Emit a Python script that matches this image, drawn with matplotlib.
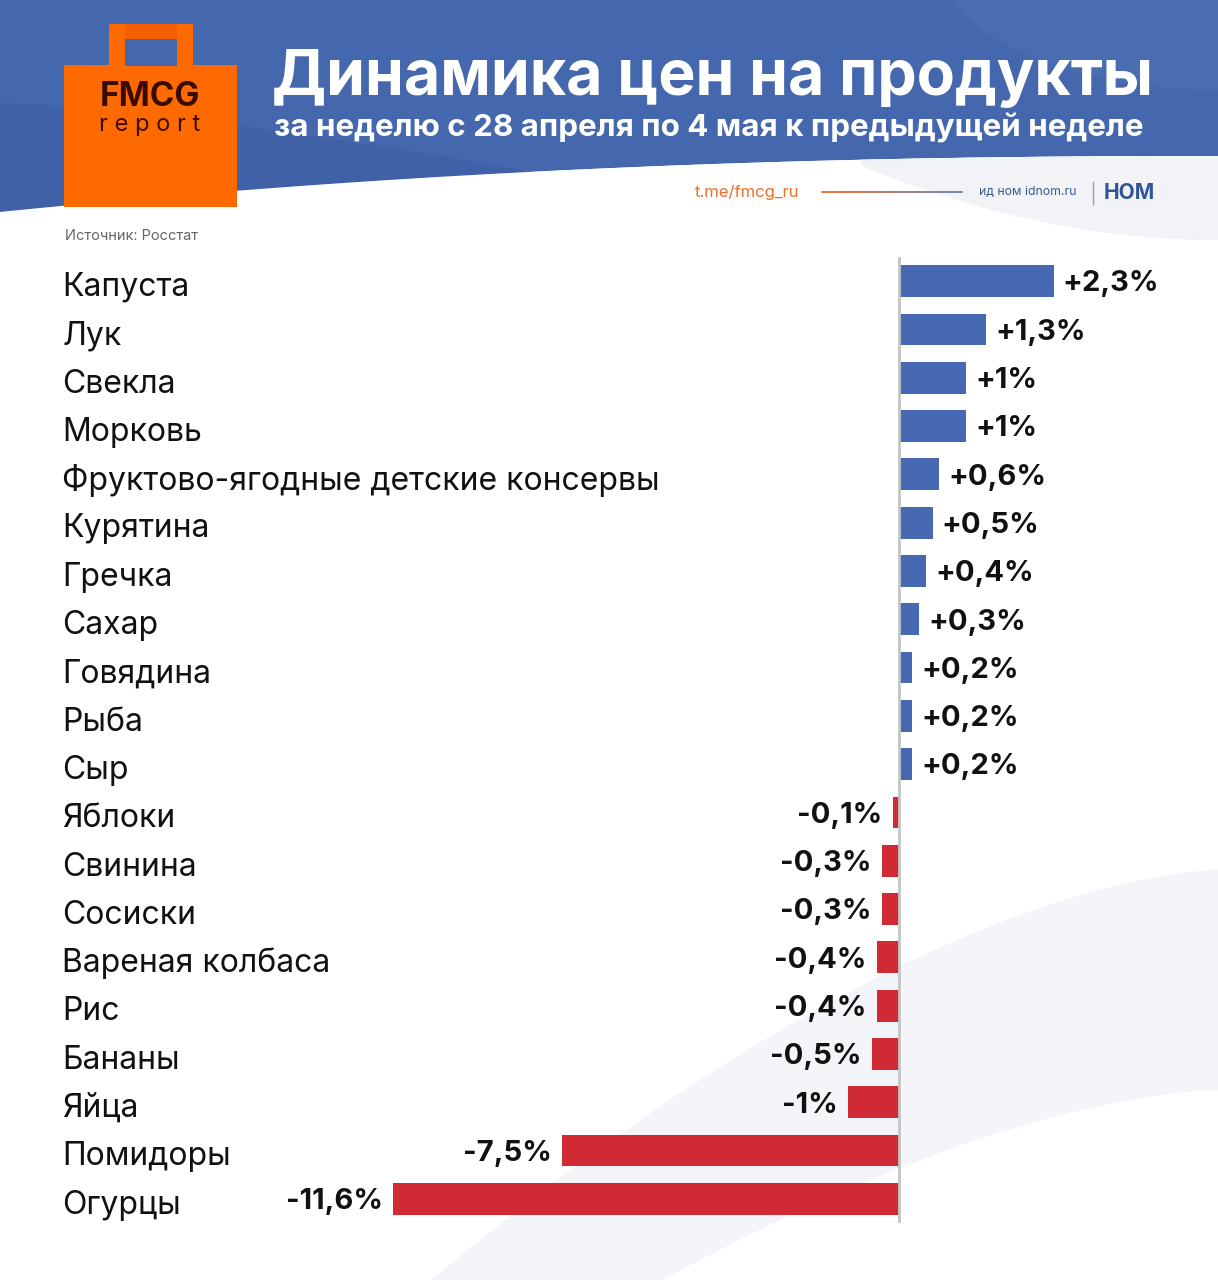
import numpy as np
import matplotlib.pyplot as plt
from matplotlib.patches import Polygon, Rectangle, Ellipse
from matplotlib.transforms import blended_transform_factory

plt.rcParams['font.family'] = ['Inter', 'DejaVu Sans']

# data
categories = ['Капуста', 'Лук', 'Свекла', 'Морковь', 'Фруктово-ягодные детские консервы',
              'Курятина', 'Гречка', 'Сахар', 'Говядина', 'Рыба', 'Сыр', 'Яблоки',
              'Свинина', 'Сосиски', 'Вареная колбаса', 'Рис', 'Бананы', 'Яйца',
              'Помидоры', 'Огурцы']
values = [2.3, 1.3, 1, 1, 0.6, 0.5, 0.4, 0.3, 0.2, 0.2, 0.2, -0.1,
          -0.3, -0.3, -0.4, -0.4, -0.5, -1, -7.5, -11.6]
value_labels = ['+2,3%', '+1,3%', '+1%', '+1%', '+0,6%', '+0,5%', '+0,4%', '+0,3%',
                '+0,2%', '+0,2%', '+0,2%', '-0,1%', '-0,3%', '-0,3%', '-0,4%', '-0,4%',
                '-0,5%', '-1%', '-7,5%', '-11,6%']

title = 'Динамика цен на продукты'
subtitle = 'за неделю с 28 апреля по 4 мая к предыдущей неделе'
source = 'Источник: Росстат'

BLUE = '#4669b1'
RED = '#d02a34'
HEAD = '#4567ad'

W, H = 1218, 1280
fig = plt.figure(figsize=(W / 100, H / 100), dpi=100)
fig.patch.set_facecolor('white')

# background / header drawn in pixel coordinates
bg = fig.add_axes([0, 0, 1, 1])
bg.set_xlim(0, W)
bg.set_ylim(H, 0)
bg.axis('off')

# faint swoosh bottom right
sx = np.linspace(432, W, 80)
s = ((W - sx) / (W - 700)) ** 1.6
upper = 870 + 210 * s
lower = np.minimum(1090 + 170 * s, H + 10)
bg.add_patch(Polygon(np.column_stack([np.r_[sx, sx[::-1]], np.r_[upper, lower[::-1]]]),
                     closed=True, fc='#f4f5f8', ec='none', zorder=0))

# blue header with curved bottom
hx = np.linspace(0, W, 80)
hy = 156 + 56 * (1 - hx / W) ** 2.2
bg.add_patch(Polygon(np.column_stack([np.r_[hx, W, 0], np.r_[hy, 0, 0]]),
                     closed=True, fc=HEAD, ec='none', zorder=1))
# subtle shading in header
dx = np.linspace(0, 560, 40)
dy = 103 + 74 * (dx / 560) ** 1.4
bg.add_patch(Polygon(np.column_stack([np.r_[dx, 560, 0], np.r_[dy, 220, 220]]),
                     closed=True, fc='#3f60a6', ec='none', zorder=1.1, alpha=0.8))
bg.add_patch(Ellipse((1218, -40), 560, 260, fc='#4a6db2', ec='none', zorder=1.2))
# white below the curve, light grey patch on the right
bg.add_patch(Polygon(np.column_stack([np.r_[hx, W, 0], np.r_[hy, 260, 260]]),
                     closed=True, fc='white', ec='none', zorder=1.3))
gx = np.linspace(860, W, 40)
gy = 156 + 56 * (1 - gx / W) ** 2.2
gb = 240 - 75 * ((W - gx) / (W - 860)) ** 2
bg.add_patch(Polygon(np.column_stack([np.r_[gx, gx[::-1]], np.r_[gy, gb[::-1]]]),
                     closed=True, fc='#f2f3f7', ec='none', zorder=1.31))

# logo bag
bg.add_patch(Rectangle((109, 24), 84, 42, fc='#ff6a00', ec='none', zorder=2))
bg.add_patch(Rectangle((125, 39), 52, 27, fc=HEAD, ec='none', zorder=2.1))
bg.add_patch(Rectangle((125, 24), 52, 15, fc='#f25e00', ec='none', zorder=2.2))
bg.add_patch(Rectangle((64, 65), 173, 142, fc='#ff6a00', ec='none', zorder=2))
bg.text(150, 97, 'FMCG', color='#3a0c00', fontsize=24, fontweight='bold',
        ha='center', va='center', zorder=3)
bg.text(150, 125, 'r e p o r t', color='#3a0c00', fontsize=17,
        ha='center', va='center', zorder=3)

# titles
bg.text(272, 78, title, color='white', fontsize=45, fontweight='bold',
        ha='left', va='center', zorder=3)
bg.text(274, 128, subtitle, color='white', fontsize=22.6, fontweight='bold',
        ha='left', va='center', zorder=3)

# links row
bg.text(695, 192, 't.me/fmcg_ru', color='#e8702a', fontsize=12, ha='left', va='center', zorder=3)
lx = np.linspace(822, 962, 30)
for i in range(len(lx) - 1):
    f = i / (len(lx) - 2)
    c = (0.91 * (1 - f) + 0.45 * f, 0.44 * (1 - f) + 0.5 * f, 0.16 * (1 - f) + 0.65 * f)
    bg.plot(lx[i:i + 2], [192, 192], color=c, lw=1.3, zorder=3)
bg.text(979, 192, 'ид ном idnom.ru', color='#3b5a8a', fontsize=8.8, ha='left', va='center', zorder=3)
bg.plot([1093, 1093], [182, 204], color='#8fa0bf', lw=1, zorder=3)
bg.text(1104, 193, 'НОМ', color='#2f5597', fontsize=15, fontweight='bold',
        ha='left', va='center', zorder=3)

bg.text(65, 236, source, color='#666666', fontsize=10.5, ha='left', va='center', zorder=3)

# chart axes with compressed negative side
K, P = 0.762, 0.934


def forward(x):
    x = np.asarray(x, dtype=float)
    return np.where(x >= 0, x, -K * np.abs(x) ** P)


def inverse(t):
    t = np.asarray(t, dtype=float)
    return np.where(t >= 0, t, -(np.abs(t) / K) ** (1 / P))


ZERO, PX = 899, 67.3
left_px, right_px = 380, 1200
top_px, bot_px = 257, 1223
ax = fig.add_axes([left_px / W, 1 - bot_px / H, (right_px - left_px) / W, (bot_px - top_px) / H])
ax.set_xscale('function', functions=(forward, inverse))
ax.set_xlim(float(inverse((left_px - ZERO) / PX)), float(inverse((right_px - ZERO) / PX)))
ax.set_ylim(len(categories) - 0.5, -0.5)
ax.patch.set_alpha(0)
ax.axis('off')

y = np.arange(len(categories))
colors = [BLUE if v > 0 else RED for v in values]
ax.barh(y, values, height=0.66, color=colors, zorder=2)
ax.axvline(0, color='#c4c4c4', lw=2, zorder=3)

for yi, v, lab in zip(y, values, value_labels):
    if v > 0:
        ax.annotate(lab, (v, yi), xytext=(6.5, -2), textcoords='offset points',
                    ha='left', va='center', fontsize=21, fontweight='bold', color='#111111')
    else:
        ax.annotate(lab, (v, yi), xytext=(-7.5, -2), textcoords='offset points',
                    ha='right', va='center', fontsize=21, fontweight='bold', color='#111111')

tr = blended_transform_factory(fig.transFigure, ax.transData)
for yi, name in zip(y, categories):
    ax.text(62 / W, yi + 0.13, name, transform=tr, ha='left', va='center',
            fontsize=23, color='#111111')

fig.savefig('out.png', dpi=100)
